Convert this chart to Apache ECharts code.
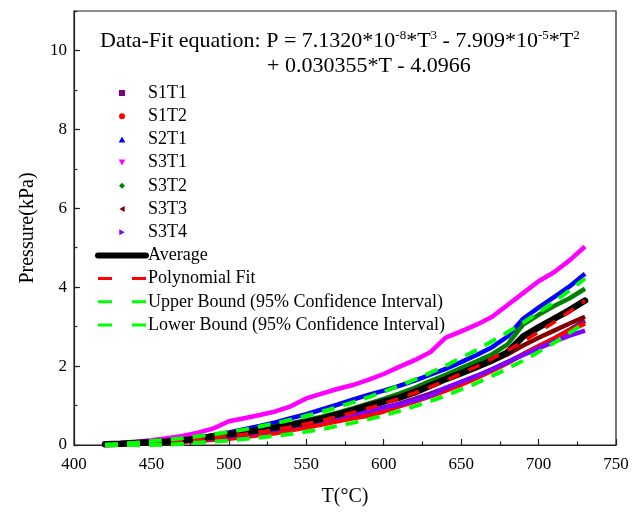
<!DOCTYPE html>
<html><head><meta charset="utf-8">
<script src="https://cdn.jsdelivr.net/npm/echarts@6/dist/echarts.min.js"></script>
<style>html,body{margin:0;padding:0;background:#fff}#c{width:641px;height:514px}</style>
</head><body><div id="c"></div>
<script>
const T = [420,430,440,450,460,470,480,490,500,510,520,530,540,550,560,570,580,590,600,610,620,630,640,650,660,670,680,690,700,710,720,730];
const S1T1 = [0.02,0.03,0.04,0.06,0.08,0.10,0.13,0.17,0.21,0.26,0.31,0.37,0.43,0.50,0.58,0.66,0.75,0.84,0.94,1.05,1.17,1.30,1.44,1.59,1.75,1.92,2.10,2.30,2.50,2.70,2.92,3.15];
const S1T2 = [0.01,0.02,0.03,0.04,0.06,0.08,0.10,0.13,0.16,0.20,0.25,0.30,0.37,0.44,0.52,0.60,0.68,0.74,0.85,0.98,1.10,1.23,1.38,1.53,1.70,1.88,2.08,2.30,2.50,2.70,2.90,3.08];
const S2T1 = [0.02,0.04,0.06,0.08,0.11,0.14,0.18,0.25,0.32,0.40,0.48,0.57,0.68,0.78,0.90,1.02,1.15,1.27,1.38,1.50,1.63,1.78,1.93,2.10,2.28,2.48,2.75,3.20,3.48,3.75,4.02,4.34];
const S3T1 = [0.03,0.05,0.08,0.12,0.17,0.23,0.31,0.42,0.60,0.68,0.76,0.85,0.98,1.18,1.30,1.42,1.52,1.65,1.80,1.98,2.15,2.35,2.72,2.88,3.05,3.25,3.55,3.85,4.15,4.38,4.68,5.03];
const S3T2 = [0.02,0.03,0.05,0.07,0.09,0.12,0.16,0.22,0.28,0.34,0.40,0.47,0.55,0.63,0.72,0.82,0.93,1.05,1.17,1.30,1.45,1.62,1.78,1.95,2.12,2.30,2.55,3.05,3.30,3.52,3.72,3.96];
const S3T3 = [0.02,0.03,0.05,0.07,0.09,0.11,0.14,0.18,0.23,0.28,0.34,0.40,0.47,0.55,0.64,0.74,0.85,0.97,1.08,1.22,1.38,1.52,1.68,1.82,1.97,2.12,2.30,2.52,2.72,2.90,3.08,3.25];
const S3T4 = [0.02,0.03,0.04,0.06,0.08,0.10,0.13,0.17,0.22,0.27,0.33,0.39,0.46,0.55,0.62,0.70,0.78,0.86,0.95,1.03,1.13,1.25,1.45,1.60,1.75,1.92,2.10,2.28,2.45,2.62,2.77,2.90];
const AVG = [0.02,0.03,0.05,0.07,0.09,0.12,0.15,0.22,0.27,0.32,0.38,0.44,0.51,0.58,0.67,0.77,0.88,1.00,1.10,1.20,1.33,1.50,1.67,1.82,1.98,2.15,2.35,2.75,2.98,3.20,3.42,3.66];
const FIT = [-0.01,0.00,0.02,0.05,0.07,0.10,0.14,0.18,0.22,0.27,0.33,0.39,0.46,0.54,0.62,0.72,0.82,0.93,1.05,1.18,1.32,1.47,1.63,1.81,1.99,2.19,2.40,2.62,2.86,3.11,3.38,3.66];
const UPPER = [0.01,0.03,0.06,0.10,0.13,0.17,0.22,0.27,0.33,0.39,0.47,0.55,0.64,0.74,0.84,0.96,1.08,1.21,1.35,1.50,1.66,1.83,2.01,2.21,2.41,2.63,2.86,3.10,3.36,3.63,3.92,4.22];
const LOWER = [-0.03,-0.03,-0.02,0.00,0.01,0.03,0.06,0.09,0.11,0.15,0.19,0.23,0.28,0.34,0.40,0.48,0.56,0.65,0.75,0.86,0.98,1.11,1.25,1.41,1.57,1.75,1.94,2.14,2.36,2.59,2.84,3.10];
const X_TICKS = [400,450,500,550,600,650,700,750];
const Y_TICKS = [0,2,4,6,8,10];

const FONT = '"Liberation Serif","Times New Roman",serif';
const pairs = v => T.map((t,i)=>[t, v[i]]);

const scatterDefs = [
  {name:'S1T1', data:S1T1, color:'#800080', icon:'path://M0,0 L10,0 L10,10 L0,10 Z'},
  {name:'S1T2', data:S1T2, color:'#ff0000', icon:'circle'},
  {name:'S2T1', data:S2T1, color:'#0000ff', icon:'path://M5,0 L10,9 L0,9 Z'},
  {name:'S3T1', data:S3T1, color:'#ff00ff', icon:'path://M0,0 L10,0 L5,9 Z'},
  {name:'S3T2', data:S3T2, color:'#008000', icon:'path://M5,0 L10,5 L5,10 L0,5 Z'},
  {name:'S3T3', data:S3T3, color:'#800000', icon:'path://M9,0 L9,10 L0,5 Z'},
  {name:'S3T4', data:S3T4, color:'#8000ff', icon:'path://M0,0 L9,5 L0,10 Z'}
];

const series = scatterDefs.map(d => ({
  name:d.name, type:'line', data:pairs(d.data), symbol:'none', smooth:false,
  color:d.color, lineStyle:{color:d.color, width:4.5}, z:2
}));
series.push({name:'Average', type:'line', data:pairs(AVG), symbol:'none', color:'#000',
  lineStyle:{color:'#000', width:6.5, cap:'round', join:'round'}, z:3});
series.push({name:'Polynomial Fit', type:'line', data:pairs(FIT), symbol:'none', color:'#ff0000',
  lineStyle:{color:'#ff0000', width:3.5, type:[12,10]}, z:4});
series.push({name:'Upper Bound (95% Confidence Interval)', type:'line', data:pairs(UPPER), symbol:'none', color:'#00ff00',
  lineStyle:{color:'#00ff00', width:4, type:[13,9]}, z:4});
series.push({name:'Lower Bound (95% Confidence Interval)', type:'line', data:pairs(LOWER), symbol:'none', color:'#00ff00',
  lineStyle:{color:'#00ff00', width:4, type:[13,9]}, z:4});

const legendData = scatterDefs.map(d => ({name:d.name, icon:d.icon, itemStyle:{color:d.color}}));
const noSym = {opacity:0};
legendData.push({name:'Average', itemStyle:noSym, lineStyle:{width:6, color:'#000', cap:'round'}});
legendData.push({name:'Polynomial Fit', itemStyle:noSym, lineStyle:{width:3, color:'#ff0000', type:[14,20]}});
legendData.push({name:'Upper Bound (95% Confidence Interval)', itemStyle:noSym, lineStyle:{width:3, color:'#00ff00', type:[14,20]}});
legendData.push({name:'Lower Bound (95% Confidence Interval)', itemStyle:noSym, lineStyle:{width:3, color:'#00ff00', type:[14,20]}});

const chart = echarts.init(document.getElementById('c'), null, {renderer:'canvas'});
const rich = {
  n:{fontFamily:FONT, fontSize:22, fontWeight:'normal', color:'#000', lineHeight:24},
  s:{fontFamily:FONT, fontSize:13, fontWeight:'normal', color:'#000', lineHeight:24, verticalAlign:'top'}
};
chart.setOption({
  animation:false,
  backgroundColor:'#fff',
  title:[
    {text:'{n|Data-Fit equation: P = 7.1320*10}{s|-8}{n|*T}{s|3}{n| - 7.909*10}{s|-5}{n|*T}{s|2}',
     left:100, top:29, padding:0, textStyle:{fontWeight:'normal', rich:rich}},
    {text:'{n|+ 0.030355*T - 4.0966}', left:267, top:54, padding:0, textStyle:{fontWeight:'normal', rich:rich}}
  ],
  grid:{left:74, right:25, top:11, bottom:69, show:true, borderColor:'#222', borderWidth:1.2, backgroundColor:'transparent'},
  legend:{orient:'vertical', left:95, top:84, padding:0, itemWidth:48, itemHeight:6, itemGap:5.2,
    textStyle:{fontFamily:FONT, fontSize:18, color:'#000', padding:[0,0,0,-3]}, data:legendData, selectedMode:false},
  xAxis:[{type:'value', min:X_TICKS[0], max:X_TICKS[X_TICKS.length-1], interval:50,
    name:'T(°C)', nameLocation:'middle', nameGap:42, nameTextStyle:{fontFamily:FONT, fontSize:20, color:'#000'},
    axisLine:{onZero:false, lineStyle:{color:'#222', width:1.2}},
    axisTick:{inside:true, length:6, lineStyle:{color:'#222', width:1.2}},
    minorTick:{show:true, splitNumber:2, length:3.5, lineStyle:{color:'#222', width:1.2}},
    axisLabel:{fontFamily:FONT, fontSize:17, color:'#000', margin:11},
    splitLine:{show:false}}],
  yAxis:[{type:'value', min:0, max:11, interval:2,
    name:'Pressure(kPa)', nameLocation:'middle', nameGap:36, nameTextStyle:{fontFamily:FONT, fontSize:20, color:'#000'},
    axisLine:{show:true, onZero:false, lineStyle:{color:'#222', width:1.2}},
    axisTick:{show:true, inside:true, length:6, lineStyle:{color:'#222', width:1.2}},
    axisLabel:{fontFamily:FONT, fontSize:17, color:'#000', margin:7, showMaxLabel:false,
      formatter: v => Y_TICKS.indexOf(v) >= 0 ? String(v) : ''},
    splitLine:{show:false}},
   {type:'value', min:0, max:11, interval:1, position:'left',
    axisLine:{show:false}, axisLabel:{show:false}, splitLine:{show:false},
    axisTick:{show:true, inside:true, length:3.5, lineStyle:{color:'#222', width:1.2}}}],
  series:series
});
</script></body></html>
